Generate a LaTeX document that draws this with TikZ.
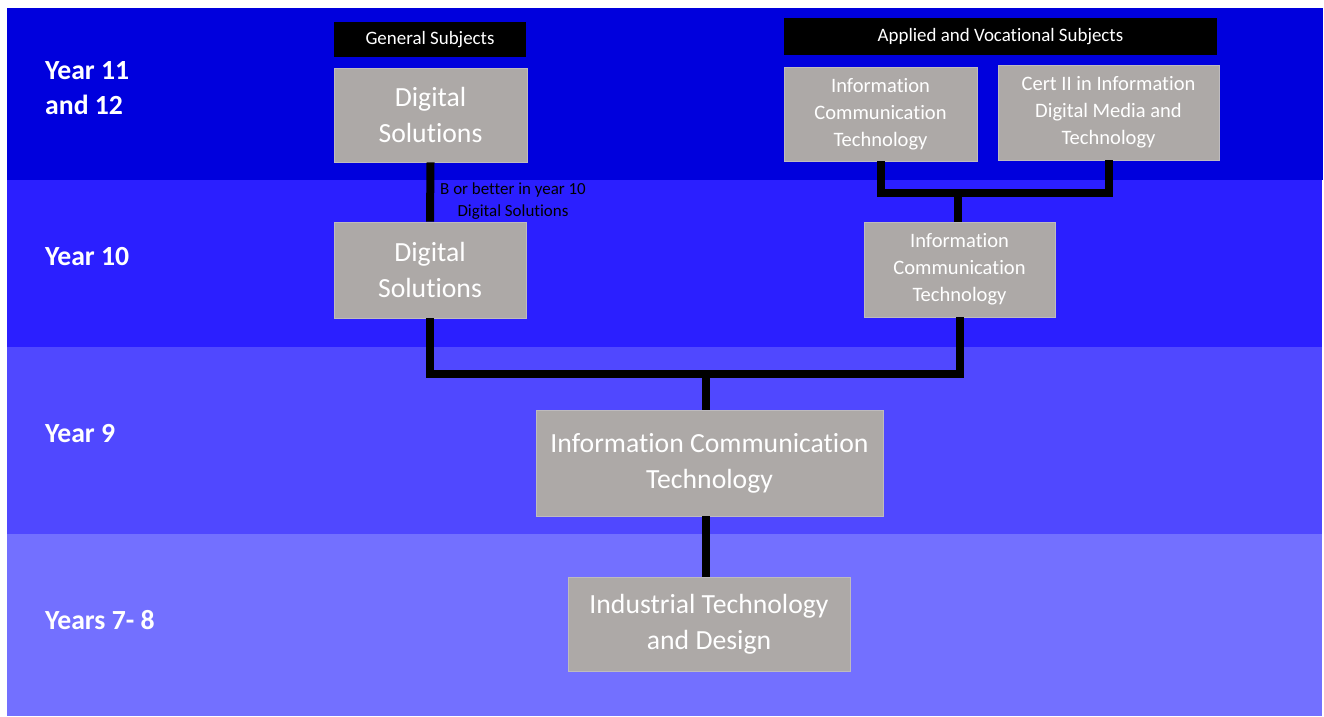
\documentclass[tikz,border=0pt]{standalone}
\usepackage{fontspec}
\setmainfont{Carlito}[Ligatures={NoCommon}]
\definecolor{bandA}{RGB}{0,0,221}
\definecolor{bandB}{RGB}{43,31,255}
\definecolor{bandC}{RGB}{80,72,255}
\definecolor{bandD}{RGB}{115,112,255}
\definecolor{boxgray}{RGB}{173,169,167}
\definecolor{boxedge}{RGB}{190,187,190}
\begin{document}
\begin{tikzpicture}[x=1bp,y=-1bp,
  subj/.style={fill=boxgray,draw=boxedge,line width=0.8bp,text=white,align=center,inner sep=0pt},
  big/.style={subj,font=\fontsize{27.8}{36}\selectfont},
  small/.style={subj,font=\fontsize{20.6}{27}\selectfont},
  head/.style={fill=black,text=white,inner sep=0pt,font=\fontsize{19}{22}\selectfont},
  yearlbl/.style={anchor=west,text=white,align=left,inner sep=0pt,font=\bfseries\fontsize{27.8}{35}\selectfont},
  link/.style={draw=black,line width=8bp,line join=miter}]
\useasboundingbox (0,0) rectangle (1324,716);
\fill[white] (0,0) rectangle (1324,716);
% bands
\fill[bandA] (7,8) rectangle (1323,180);
\fill[bandB] (7,180) rectangle (1322,347);
\fill[bandC] (7,347) rectangle (1322,534);
\fill[bandD] (7,534) rectangle (1322,716);
% year labels
\node[yearlbl] (y11) at (45,88) {Year 11\\and 12};
\node[yearlbl] (y10) at (45,257) {Year 10};
\node[yearlbl] (y9) at (45,434) {Year 9};
\node[yearlbl] (y78) at (45,620) {Years 7- 8};
% headers
\node[head,minimum width=192bp,minimum height=35bp] (gs) at (430,39.5) {General Subjects};
\node[head,minimum width=433bp,minimum height=37bp] (avs) at (1000.5,36.5) {Applied and Vocational Subjects};
% boxes
\node[big,minimum width=193bp,minimum height=94bp] (ds11) at (430.5,115) {Digital\\Solutions};
\node[big,minimum width=192bp,minimum height=96bp] (ds10) at (430,270) {Digital\\Solutions};
\node[small,minimum width=193bp,minimum height=94bp] (ict11) at (880.5,114) {Information\\Communication\\Technology};
\node[small,minimum width=221bp,minimum height=95bp] (cert) at (1108.5,112.5) {Cert II in Information\\Digital Media and\\Technology};
\node[small,minimum width=191bp,minimum height=95bp] (ict10) at (959.5,269.5) {Information\\Communication\\Technology};
\node[big,minimum width=347bp,minimum height=106bp] (ict9) at (709.5,463) {Information Communication\\Technology};
\node[big,minimum width=282bp,minimum height=94bp] (itd) at (709,624) {Industrial Technology\\and Design};
% label
\node[text=black,align=center,inner sep=0pt,font=\fontsize{17}{22}\selectfont] (cond) at (513,201) {B or better in year 10\\Digital Solutions};
% junctions
\coordinate (jtop) at (958,193);
\coordinate (jmid) at (706,374);
% connectors
\draw[link] (ds11.south) -- (ds10.north);
\draw[link] (ict11.south) |- (jtop) -| (cert.south);
\draw[link] (jtop) -- (jtop |- ict10.north);
\draw[link] (ds10.south) |- (jmid) -| (ict10.south);
\draw[link] (jmid) -- (jmid |- ict9.north);
\draw[link] (ict9.south -| jmid) -- (itd.north -| jmid);
\end{tikzpicture}
\end{document}
